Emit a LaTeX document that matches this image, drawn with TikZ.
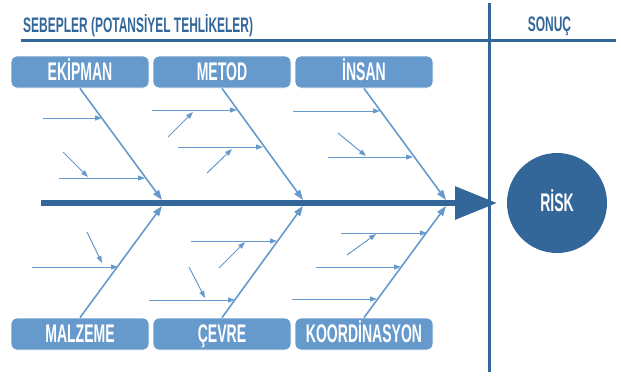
\documentclass[tikz,border=0pt]{standalone}
\usepackage{fontspec}
\newfontfamily\condfont[FakeStretch=0.55]{Liberation Sans}
\newfontfamily\hdrfont[FakeStretch=0.57]{Liberation Sans}
\usetikzlibrary{arrows.meta}
\definecolor{darkb}{HTML}{336699}
\definecolor{lightb}{HTML}{6699CC}
\begin{document}
\begin{tikzpicture}[x=1pt,y=-1pt,
  catbox/.style={draw=white, line width=0.8pt, fill=lightb, rounded corners=6pt,
    minimum width=138pt, minimum height=32pt, inner sep=0pt, text=white,
    font=\condfont\bfseries\fontsize{25.5}{27}\selectfont, text height=17.5pt, text depth=0pt},
  bone/.style={draw=lightb, line width=1.6pt, -{Triangle[length=10pt,width=7pt]}},
  sub/.style={draw=lightb, line width=1pt, -{Triangle[length=7pt,width=5pt]}},
  hdr/.style={text=darkb, inner sep=0pt, font=\hdrfont\bfseries\fontsize{21}{22}\selectfont},
  rulel/.style={draw=darkb, line width=2.4pt},
  vrule/.style={draw=darkb, line width=3pt},
  spine/.style={draw=darkb, line width=6pt, -{Triangle[length=42pt,width=32pt]}},
  riskc/.style={circle, fill=darkb, minimum size=100pt, inner sep=0pt, text=white,
    font=\condfont\bfseries\fontsize{25.5}{27}\selectfont, text height=17.5pt, text depth=0pt}
]
\useasboundingbox (0,0) rectangle (621,376);

% header
\node[hdr, anchor=base west] (sebep) at (23,32) {SEBEPLER (POTANSİYEL TEHLİKELER)};
\node[hdr, anchor=base] (sonuc) at (549.5,31) {SONUÇ};
\coordinate (hlA) at (21,40.5);
\coordinate (hlB) at (616,40.5);
\draw[rulel] (hlA) -- (hlB);

% spine
\coordinate (spineS) at (41,203);
\coordinate (spineE) at (497,203);
\draw[spine] (spineS) -- (spineE);

% vertical divider
\coordinate (vlA) at (489.5,3);
\coordinate (vlB) at (489.5,372);
\draw[vrule] (vlA) -- (vlB);

% result
\node[riskc] (risk) at (557,203) {RİSK};

% category boxes
\node[catbox] (ekip) at (80,72) {EKİPMAN};
\node[catbox] (metod) at (222,72) {METOD};
\node[catbox] (insan) at (364,72) {İNSAN};
\node[catbox] (malz) at (80,334) {MALZEME};
\node[catbox] (cevre) at (222,334) {ÇEVRE};
\node[catbox] (koord) at (364,334) {KOORDİNASYON};

% bone ends on spine
\coordinate (j1) at (162,200);
\coordinate (j2) at (303,200);
\coordinate (j3) at (446,200);
\coordinate (k1) at (162,206);
\coordinate (k2) at (303,206);
\coordinate (k3) at (446,206);
\draw[bone] (ekip.south) -- (j1);
\draw[bone] (metod.south) -- (j2);
\draw[bone] (insan.south) -- (j3);
\draw[bone] (malz.north) -- (k1);
\draw[bone] (cevre.north) -- (k2);
\draw[bone] (koord.north) -- (k3);

% sub causes: EKIPMAN
\coordinate (a1s) at (43,118);  \coordinate (a1e) at (102,118);
\coordinate (a2s) at (63,152);  \coordinate (a2e) at (88,177);
\coordinate (a3s) at (59,178);  \coordinate (a3e) at (145,178);
% METOD
\coordinate (b1s) at (152,110); \coordinate (b1e) at (237,110);
\coordinate (b2s) at (168,137); \coordinate (b2e) at (193,112);
\coordinate (b3s) at (178,147); \coordinate (b3e) at (263,147);
\coordinate (b4s) at (207,173); \coordinate (b4e) at (232,149);
% INSAN
\coordinate (c1s) at (293,111); \coordinate (c1e) at (380,111);
\coordinate (c2s) at (338,133); \coordinate (c2e) at (366,156);
\coordinate (c3s) at (328,157); \coordinate (c3e) at (413,157);
% MALZEME
\coordinate (d1s) at (87,232);  \coordinate (d1e) at (102,263);
\coordinate (d2s) at (32,267);  \coordinate (d2e) at (118,267);
% CEVRE
\coordinate (e1s) at (191,241); \coordinate (e1e) at (277,241);
\coordinate (e2s) at (219,268); \coordinate (e2e) at (245,242);
\coordinate (e3s) at (189,267); \coordinate (e3e) at (205,298);
\coordinate (e4s) at (149,300); \coordinate (e4e) at (235,300);
% KOORDINASYON
\coordinate (f1s) at (341,233); \coordinate (f1e) at (427,233);
\coordinate (f2s) at (347,255); \coordinate (f2e) at (376,234);
\coordinate (f3s) at (316,267); \coordinate (f3e) at (401,267);
\coordinate (f4s) at (292,299); \coordinate (f4e) at (377,299);

\foreach \p in {a1,a2,a3,b1,b2,b3,b4,c1,c2,c3,d1,d2,e1,e2,e3,e4,f1,f2,f3,f4}
  \draw[sub] (\p s) -- (\p e);
\end{tikzpicture}
\end{document}
